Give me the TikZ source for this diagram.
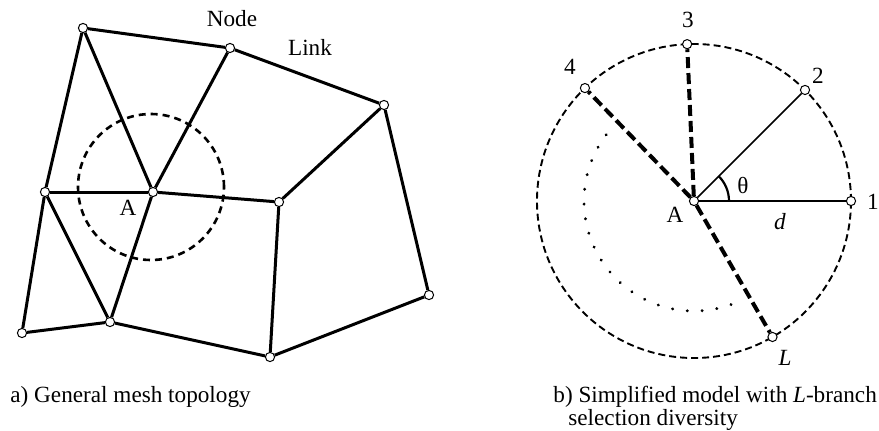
\documentclass[tikz,border=0pt]{standalone}
\usepackage{fontspec}
\setmainfont{Liberation Serif}
\usetikzlibrary{positioning,calc}
\tikzset{%
  % nodes
  mnode/.style={circle, draw, fill=white, inner sep=0pt, minimum size=4.6pt, line width=0.5pt},
  lbl/.style={inner sep=0pt, font=\fontsize{11.6}{10}\selectfont},
  % edge styles
  link/.style={line width=1.5pt},
  branch/.style={line width=0.85pt},
  weakbranch/.style={line width=2pt, dash pattern=on 5.5pt off 2.5pt},
  zone/.style={line width=1.3pt, dash pattern=on 3.5pt off 2.5pt},
  reach/.style={line width=0.95pt, dash pattern=on 3.5pt off 2pt},
  dotline/.style={line width=1.6pt, line cap=round, dash pattern=on 0.01pt off 7.4pt},
}

\begin{document}
\begin{tikzpicture}[x=0.5pt, y=0.5pt]
  \useasboundingbox (0,0) rectangle (879,430);

  % a) mesh
  \coordinate (zc) at (151,243);
  \draw[zone] (zc) circle[radius=73];

  \node[mnode] (ntl) at (83,402) {};
  \node[mnode] (ntm) at (230,382) {};
  \node[mnode] (ntr) at (384,325) {};
  \node[mnode] (nA) at (153,238) {};
  \node[mnode] (nl) at (45,238) {};
  \node[mnode] (nr) at (279,228) {};
  \node[mnode] (nbl) at (22,97) {};
  \node[mnode] (nbm) at (110,108) {};
  \node[mnode] (nbc) at (270,73) {};
  \node[mnode] (nbr) at (429,135) {};

  \draw[link] (ntl) -- (ntm);
  \draw[link] (ntm) -- (ntr);
  \draw[link] (ntl) -- (nl);
  \draw[link] (ntl) -- (nA);
  \draw[link] (ntm) -- (nA);
  \draw[link] (nl) -- (nA);
  \draw[link] (nA) -- (nr);
  \draw[link] (ntr) -- (nr);
  \draw[link] (ntr) -- (nbr);
  \draw[link] (nl) -- (nbl);
  \draw[link] (nl) -- (nbm);
  \draw[link] (nA) -- (nbm);
  \draw[link] (nbl) -- (nbm);
  \draw[link] (nbm) -- (nbc);
  \draw[link] (nbc) -- (nr);
  \draw[link] (nbc) -- (nbr);

  \node[lbl] (tnode) at (232,411) {Node};
  \node[lbl] (tlink) at (310,383) {Link};
  \node[lbl] (tA) at (128,222) {A};
  \node[lbl, anchor=base west] (capa) at (10,28) {a) General mesh topology};

  % b) simplified model
  \coordinate (rc) at (694,229);
  \draw[reach] (rc) circle[radius=157];
  \draw[dotline] ([shift={(143:110)}]rc) arc[start angle=143, end angle=295, radius=110];

  \node[mnode] (rA) at (rc) {};
  \node[mnode] (r1) at ([shift={(0:157)}]rc) {};
  \node[mnode] (r2) at ([shift={(45:157)}]rc) {};
  \node[mnode] (r3) at ([shift={(92.5:157)}]rc) {};
  \node[mnode] (r4) at ([shift={(134:157)}]rc) {};
  \node[mnode] (rL) at ([shift={(-60:157)}]rc) {};

  \draw[branch] (rA) -- (r1);
  \draw[branch] (rA) -- (r2);
  \draw[weakbranch] (rA) -- (r3);
  \draw[weakbranch] (rA) -- (r4);
  \draw[weakbranch] (rA) -- (rL);
  \draw[line width=1.1pt] ([shift={(0:35)}]rc) arc[start angle=0, end angle=45, radius=35];

  \node[lbl] (t1) at (873,228) {1};
  \node[lbl] (t2) at (818,354) {2};
  \node[lbl] (t3) at (688,410) {3};
  \node[lbl] (t4) at (570,363) {4};
  \node[lbl] (tL) at (785,72) {\textit{L}};
  \node[lbl] (tth) at (743,245) {θ};
  \node[lbl] (td) at (780,208) {\textit{d}};
  \node[lbl] (tAb) at (675,215) {A};
  \node[lbl, anchor=north west, align=left] (capb) at (553,44)
    {b) Simplified model with \textit{L}-branch\\\hspace*{7.5pt}selection diversity};
\end{tikzpicture}
\end{document}
